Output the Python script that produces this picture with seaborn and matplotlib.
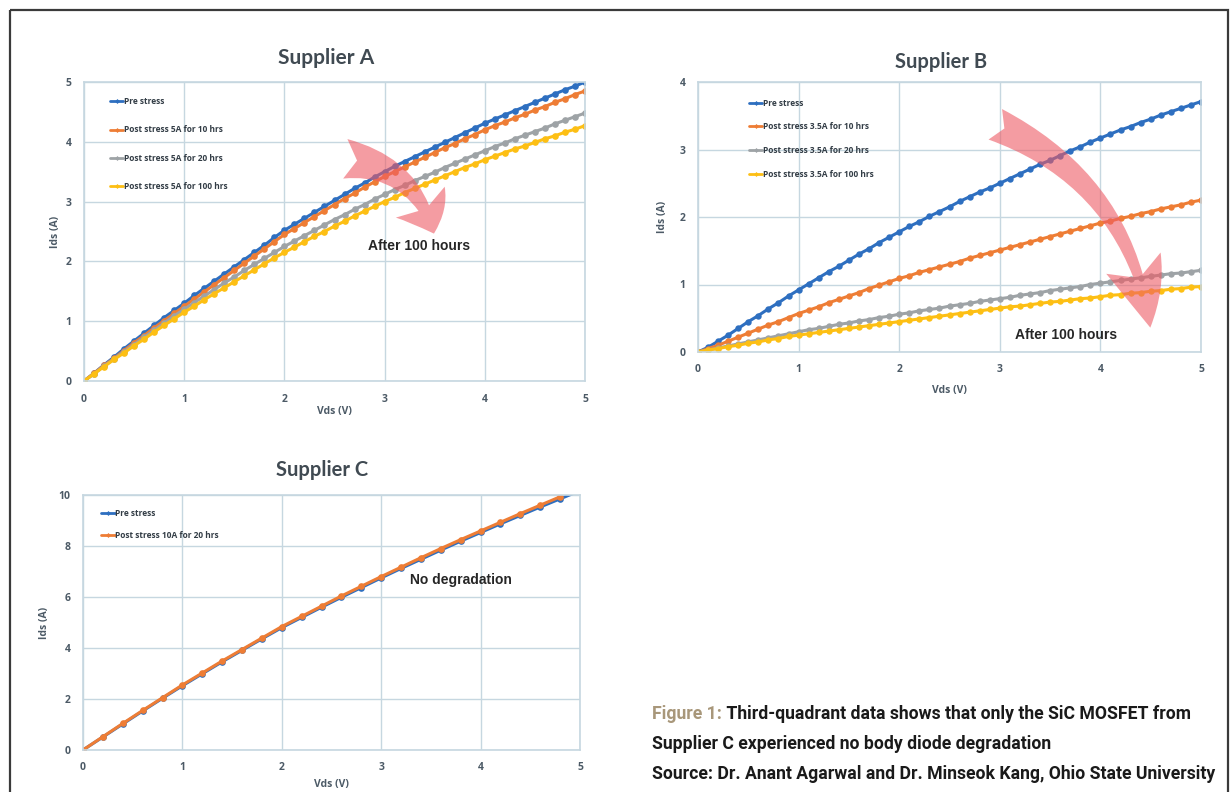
#!/usr/bin/env python3
"""
plot.py
Third-quadrant Ids-Vds curves of SiC MOSFETs from three suppliers,
before and after body diode stress.
"""
import numpy as np
import pandas as pd
import matplotlib
matplotlib.use("Agg")
import matplotlib.pyplot as plt
import seaborn as sns
from matplotlib.patches import FancyArrowPatch, Rectangle
from matplotlib.lines import Line2D

# --- data ------------------------------------------------------------------
vds_fine = [round(0.1 * i, 1) for i in range(51)]
vds_coarse = [round(0.2 * i, 1) for i in range(26)]

labels_a = ["Pre stress", "Post stress 5A for 10 hrs",
            "Post stress 5A for 20 hrs", "Post stress 5A for 100 hrs"]
ids_a_pre = [0.00, 0.13, 0.27, 0.40, 0.54, 0.67, 0.80, 0.93, 1.06, 1.18, 1.30,
             1.43, 1.55, 1.67, 1.79, 1.91, 2.03, 2.15, 2.27, 2.40, 2.52,
             2.62, 2.72, 2.82, 2.92, 3.02, 3.12, 3.22, 3.31, 3.41, 3.50,
             3.59, 3.67, 3.75, 3.83, 3.91, 3.99, 4.07, 4.15, 4.23, 4.31,
             4.38, 4.45, 4.52, 4.59, 4.66, 4.73, 4.80, 4.87, 4.93, 5.00]
ids_a_10h = [0.00, 0.13, 0.26, 0.38, 0.51, 0.64, 0.76, 0.89, 1.01, 1.13, 1.25,
             1.37, 1.49, 1.61, 1.73, 1.85, 1.97, 2.09, 2.21, 2.33, 2.45,
             2.55, 2.65, 2.75, 2.85, 2.95, 3.05, 3.14, 3.24, 3.33, 3.42,
             3.50, 3.58, 3.66, 3.74, 3.82, 3.90, 3.97, 4.05, 4.12, 4.20,
             4.27, 4.33, 4.40, 4.46, 4.53, 4.59, 4.66, 4.72, 4.79, 4.85]
ids_a_20h = [0.00, 0.12, 0.25, 0.37, 0.49, 0.61, 0.73, 0.85, 0.97, 1.09, 1.20,
             1.31, 1.42, 1.53, 1.64, 1.74, 1.85, 1.95, 2.05, 2.15, 2.25,
             2.34, 2.43, 2.52, 2.61, 2.70, 2.78, 2.87, 2.95, 3.04, 3.12,
             3.20, 3.27, 3.35, 3.42, 3.49, 3.57, 3.64, 3.71, 3.78, 3.85,
             3.92, 3.98, 4.05, 4.11, 4.17, 4.23, 4.30, 4.36, 4.42, 4.48]
ids_a_100h = [0.00, 0.12, 0.24, 0.36, 0.47, 0.59, 0.70, 0.82, 0.93, 1.04, 1.15,
              1.25, 1.36, 1.46, 1.56, 1.66, 1.76, 1.86, 1.96, 2.06, 2.15,
              2.24, 2.33, 2.42, 2.50, 2.59, 2.67, 2.76, 2.84, 2.92, 3.00,
              3.07, 3.15, 3.22, 3.29, 3.36, 3.43, 3.50, 3.57, 3.63, 3.70,
              3.76, 3.82, 3.88, 3.93, 3.99, 4.05, 4.10, 4.16, 4.21, 4.27]

labels_b = ["Pre stress", "Post stress 3.5A for 10 hrs",
            "Post stress 3.5A for 20 hrs", "Post stress 3.5A for 100 hrs"]
ids_b_pre = [0.00, 0.07, 0.16, 0.25, 0.35, 0.45, 0.54, 0.64, 0.73, 0.83, 0.92,
             1.01, 1.10, 1.19, 1.27, 1.36, 1.45, 1.53, 1.62, 1.70, 1.78,
             1.86, 1.93, 2.01, 2.08, 2.15, 2.23, 2.30, 2.37, 2.43, 2.50,
             2.57, 2.64, 2.71, 2.78, 2.84, 2.91, 2.98, 3.04, 3.11, 3.17,
             3.23, 3.29, 3.34, 3.40, 3.45, 3.51, 3.56, 3.61, 3.66, 3.71]
ids_b_10h = [0.00, 0.05, 0.10, 0.16, 0.22, 0.28, 0.34, 0.40, 0.45, 0.51, 0.57,
             0.62, 0.67, 0.73, 0.78, 0.83, 0.88, 0.94, 0.99, 1.04, 1.09,
             1.13, 1.18, 1.22, 1.26, 1.30, 1.34, 1.39, 1.43, 1.47, 1.51,
             1.55, 1.59, 1.63, 1.67, 1.71, 1.75, 1.79, 1.83, 1.87, 1.91,
             1.94, 1.98, 2.01, 2.05, 2.08, 2.12, 2.15, 2.18, 2.22, 2.25]
ids_b_20h = [0.00, 0.03, 0.06, 0.09, 0.12, 0.15, 0.18, 0.21, 0.24, 0.27, 0.30,
             0.33, 0.35, 0.38, 0.41, 0.43, 0.46, 0.48, 0.51, 0.53, 0.56,
             0.58, 0.61, 0.63, 0.65, 0.68, 0.70, 0.72, 0.75, 0.77, 0.79,
             0.81, 0.84, 0.86, 0.88, 0.91, 0.93, 0.95, 0.97, 1.00, 1.02,
             1.04, 1.06, 1.08, 1.10, 1.12, 1.14, 1.16, 1.17, 1.19, 1.21]
ids_b_100h = [0.00, 0.03, 0.05, 0.08, 0.10, 0.13, 0.15, 0.18, 0.20, 0.23, 0.25,
              0.27, 0.29, 0.31, 0.33, 0.35, 0.37, 0.39, 0.41, 0.43, 0.45,
              0.47, 0.49, 0.51, 0.53, 0.55, 0.57, 0.59, 0.61, 0.63, 0.65,
              0.67, 0.68, 0.70, 0.72, 0.74, 0.75, 0.77, 0.79, 0.80, 0.82,
              0.84, 0.85, 0.87, 0.88, 0.90, 0.91, 0.93, 0.94, 0.96, 0.97]

labels_c = ["Pre stress", "Post stress 10A for 20 hrs"]
ids_c_pre = [0.00, 0.51, 1.02, 1.53, 2.03, 2.52, 2.99, 3.46, 3.91, 4.36, 4.80,
             5.20, 5.60, 5.99, 6.37, 6.75, 7.12, 7.48, 7.84, 8.19, 8.53,
             8.87, 9.20, 9.53, 9.85, 10.17]
ids_c_post = [0.00, 0.52, 1.04, 1.55, 2.05, 2.55, 3.02, 3.49, 3.94, 4.39, 4.84,
              5.24, 5.64, 6.04, 6.42, 6.80, 7.17, 7.54, 7.90, 8.25, 8.59,
              8.93, 9.27, 9.60, 9.93]

COLORS = ["#2E6FC0", "#EE7D35", "#9EA3A6", "#FDBF14"]
GRID = "#C6D7E0"
TICK = "#4C5A66"

sns.set_theme(style="white")
plt.rcParams["font.family"] = ["Open Sans", "DejaVu Sans"]


def long_df(x_list, series, labels):
    frames = []
    for ys, lab in zip(series, labels):
        frames.append(pd.DataFrame({"vds": x_list[:len(ys)], "ids": ys, "curve": lab}))
    return pd.concat(frames, ignore_index=True)


def style_axes(ax, ylim, yticks, xlabel_pad, ylabel_pad):
    ax.set_xlim(0, 5)
    ax.set_ylim(*ylim)
    ax.set_xticks(range(0, 6))
    ax.set_yticks(yticks)
    ax.grid(True, color=GRID, linewidth=1.0)
    ax.set_axisbelow(True)
    for sp in ax.spines.values():
        sp.set_color(GRID)
        sp.set_linewidth(1.2)
    ax.tick_params(length=0, labelsize=7.5, labelcolor=TICK, pad=9)
    for lab in ax.get_xticklabels() + ax.get_yticklabels():
        lab.set_fontweight("bold")
    ax.set_xlabel("Vds (V)", fontsize=7.5, fontweight="bold", color=TICK, labelpad=xlabel_pad)
    ax.set_ylabel("Ids (A)", fontsize=7.5, fontweight="bold", color=TICK, labelpad=ylabel_pad)


def draw_panel(ax, df, labels, colors, ms, title, title_pad, title_x, title_size):
    sns.lineplot(data=df, x="vds", y="ids", hue="curve", hue_order=labels,
                 palette=dict(zip(labels, colors)), marker="o", markersize=ms,
                 markeredgewidth=0, linewidth=2.2, ax=ax, legend=False)
    ax.set_title(title, fontsize=title_size, fontweight="bold", color="#404A52",
                 pad=title_pad, x=title_x, family=["Lato", "DejaVu Sans"])


def add_legend(ax, labels, colors, anchor, spacing):
    handles = [Line2D([], [], color=c, lw=2.0, marker="D", markersize=2.5,
                      markeredgewidth=0) for c in colors]
    leg = ax.legend(handles, labels, loc="upper left", bbox_to_anchor=anchor,
                    frameon=False, fontsize=6, labelspacing=spacing,
                    handlelength=1.6, handletextpad=0.05, borderaxespad=0)
    for t in leg.get_texts():
        t.set_color("#333D46")
        t.set_fontweight("bold")


def add_arrow(ax, start, end, rad, scale, style):
    arr = FancyArrowPatch(start, end, connectionstyle=f"arc3,rad={rad}",
                          arrowstyle=style, mutation_scale=scale,
                          color="#EE5A64", alpha=0.6, linewidth=0, zorder=5)
    ax.add_patch(arr)


fig = plt.figure(figsize=(12.3, 7.92), dpi=100)
fig.patch.set_facecolor("white")

W, H = 1230, 792
ax_a = fig.add_axes([84 / W, 1 - 381 / H, 501 / W, 299 / H])
ax_b = fig.add_axes([698 / W, 1 - 352 / H, 503 / W, 270 / H])
ax_c = fig.add_axes([83 / W, 1 - 750 / H, 497 / W, 255 / H])

txt_font = dict(fontsize=10, fontweight="bold", family=["Liberation Sans", "DejaVu Sans"],
                va="center", ha="left", zorder=6)

# Supplier A
df_a = long_df(vds_fine, [ids_a_pre, ids_a_10h, ids_a_20h, ids_a_100h], labels_a)
draw_panel(ax_a, df_a, labels_a, COLORS, 4.8, "Supplier A", 13, 0.483, 15)
style_axes(ax_a, (0, 5), range(0, 6), 1, 3)
add_legend(ax_a, labels_a, COLORS, (0.045, 0.96), 2.3)
add_arrow(ax_a, (2.58, 3.72), (3.5, 2.42), -0.35, 26,
          "fancy,head_length=0.95,head_width=1.6,tail_width=1.1")
ax_a.text(2.83, 2.26, "After 100 hours", **txt_font)

# Supplier B
df_b = long_df(vds_fine, [ids_b_pre, ids_b_10h, ids_b_20h, ids_b_100h], labels_b)
draw_panel(ax_b, df_b, labels_b, COLORS, 4.6, "Supplier B", 10, 0.483, 14.5)
style_axes(ax_b, (0, 4), range(0, 5), 7, 8)
add_legend(ax_b, labels_b, COLORS, (0.095, 0.95), 1.75)
add_arrow(ax_b, (2.93, 3.39), (4.5, 0.32), -0.28, 40,
          "fancy,head_length=1.2,head_width=1.05,tail_width=0.6")
ax_b.text(3.15, 0.25, "After 100 hours", **txt_font)

# Supplier C
df_c = long_df(vds_coarse, [ids_c_pre, ids_c_post], labels_c)
draw_panel(ax_c, df_c, labels_c, COLORS[:2], 4.8, "Supplier C", 14, 0.481, 14.5)
style_axes(ax_c, (0, 10), range(0, 11, 2), 4, 6)
add_legend(ax_c, labels_c, COLORS[:2], (0.03, 0.96), 1.6)
ax_c.text(3.29, 6.67, "No degradation", **txt_font)

# caption and frame
ax_bg = fig.add_axes([0, 0, 1, 1], zorder=-1)
ax_bg.set_xlim(0, W)
ax_bg.set_ylim(H, 0)
ax_bg.axis("off")
ax_bg.add_patch(Rectangle((9.5, 10), 1218, 800, fill=False, edgecolor="#3A3A3A",
                          linewidth=1.6))

cap_font = dict(fontsize=12.7, fontweight="bold", family=["Roboto", "DejaVu Sans"])
t1 = ax_bg.text(652, 719, "Figure 1:", color="#A8977A", va="baseline", ha="left", **cap_font)
ax_bg.annotate(" Third-quadrant data shows that only the SiC MOSFET from",
               xy=(1, 0), xycoords=t1, va="bottom", ha="left", color="#1A1A1A", **cap_font)
ax_bg.text(652, 749, "Supplier C experienced no body diode degradation",
           color="#1A1A1A", va="baseline", ha="left", **cap_font)
ax_bg.text(652, 779, "Source: Dr. Anant Agarwal and Dr. Minseok Kang, Ohio State University",
           color="#1A1A1A", va="baseline", ha="left", **cap_font)

fig.savefig("out.png", dpi=100, facecolor="white")
print("saved out.png")
